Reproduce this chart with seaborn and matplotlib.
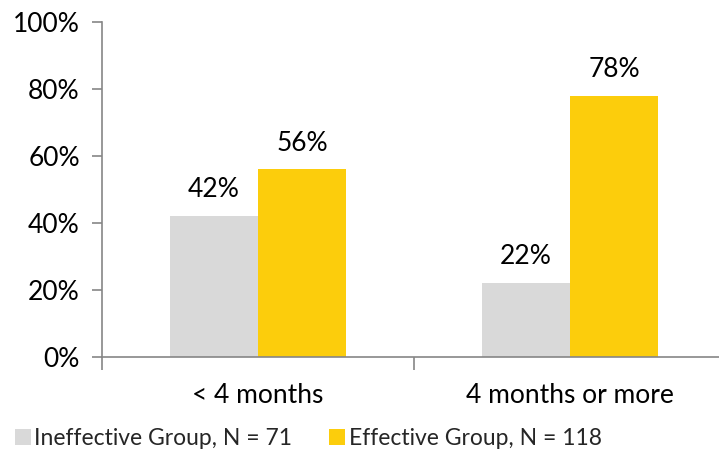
import matplotlib
matplotlib.use("Agg")
import matplotlib.pyplot as plt
import seaborn as sns
import pandas as pd
from matplotlib.patches import Patch
from matplotlib.ticker import FixedLocator

categories = ["< 4 months", "4 months or more"]
series_names = ["Ineffective Group, N = 71", "Effective Group, N = 118"]
ineffective = [42, 22]
effective = [56, 78]
y_ticks = [0, 20, 40, 60, 80, 100]
y_tick_labels = ["0%", "20%", "40%", "60%", "80%", "100%"]

colors = ["#D9D9D9", "#FCCD0C"]

sns.set_theme(style="white")
plt.rcParams["font.family"] = ["Lato", "DejaVu Sans"]

df = pd.DataFrame({
    "category": categories * 2,
    "series": [series_names[0]] * 2 + [series_names[1]] * 2,
    "value": ineffective + effective,
})

fig = plt.figure(figsize=(7.19, 4.5), dpi=100)
ax = fig.add_axes([102 / 719, 1 - 357 / 450, 624 / 719, 335 / 450])

sns.barplot(data=df, x="category", y="value", hue="series", order=categories,
            hue_order=series_names, palette=colors, width=0.566, gap=0,
            saturation=1, ax=ax, legend=False, linewidth=0)

ax.set_ylim(0, 100)
ax.set_xlim(-0.5, 1.5)
ax.set_yticks(y_ticks)
ax.set_yticklabels(y_tick_labels)
ax.set_xlabel("")
ax.set_ylabel("")

ax.set_xticks([-0.5, 0.5, 1.5])
ax.set_xticklabels(["", "", ""])
ax.xaxis.set_minor_locator(FixedLocator([0, 1]))
ax.set_xticklabels(categories, minor=True)
ax.tick_params(axis="x", which="major", length=9, width=1.2, color="#868686", direction="out", bottom=True)
ax.tick_params(axis="x", which="minor", length=0, pad=19, labelsize=19, labelcolor="black")
ax.tick_params(axis="y", which="major", length=7, width=1.2, color="#868686", direction="out",
               left=True, labelsize=19, labelcolor="black", pad=9)

for side in ["top", "right"]:
    ax.spines[side].set_visible(False)
for side in ["left", "bottom"]:
    ax.spines[side].set_color("#868686")
    ax.spines[side].set_linewidth(1.2)
ax.grid(False)

for container in ax.containers:
    ax.bar_label(container, labels=[f"{v:.0f}%" for v in container.datavalues],
                 padding=10, fontsize=19, color="black")

handles = [Patch(facecolor=c, edgecolor="none") for c in colors]
fig.legend(handles, series_names, loc="lower left", bbox_to_anchor=(0.008, -0.018), ncol=2,
           frameon=False, fontsize=16.5, handlelength=0.7, handleheight=0.7,
           handletextpad=0.15, columnspacing=1.6, borderaxespad=0)

fig.savefig("out.png", dpi=100)
